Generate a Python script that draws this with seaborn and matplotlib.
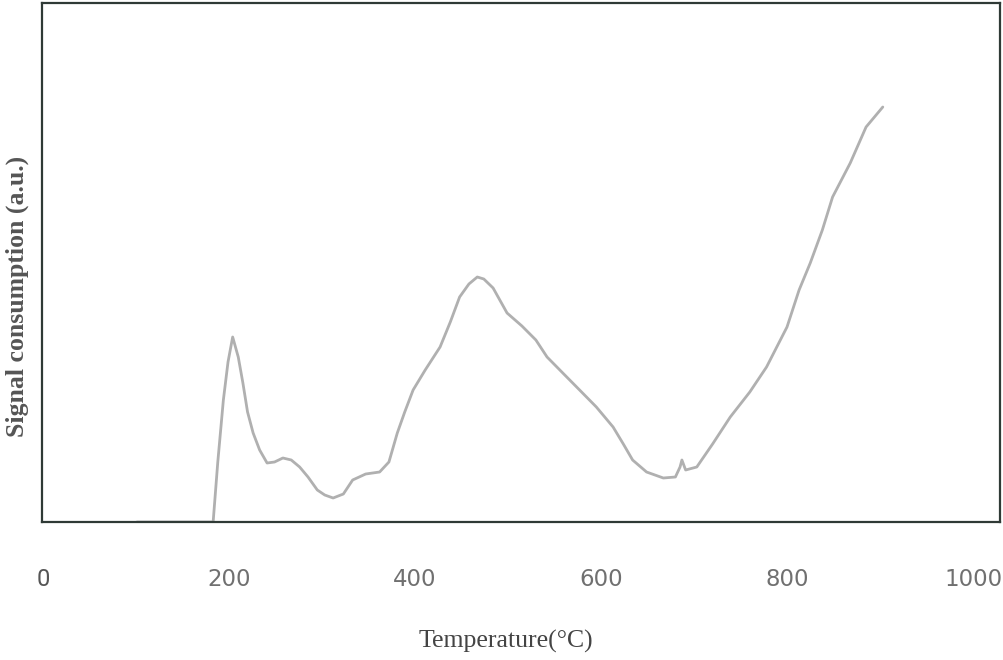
import matplotlib
matplotlib.use("Agg")
import matplotlib.pyplot as plt
import seaborn as sns
import pandas as pd

# Temperature (°C) and signal (a.u.)
temperature = [101, 158, 183, 188, 194, 199, 204, 210, 215, 220, 226, 233, 241,
               249, 258, 267, 276, 285, 295, 303, 312, 323, 333, 347, 362, 372,
               381, 389, 398, 411, 427, 438, 448, 458, 467, 474, 484, 499, 515,
               530, 542, 560, 577, 595, 613, 624, 634, 649, 667, 680, 685, 687,
               691, 703, 720, 739, 760, 778, 789, 800, 813, 825, 838, 849, 868,
               885, 903]
signal = [0, 0, 0, 60, 122, 160, 185, 165, 139, 110, 89, 72, 59,
          60, 64, 62, 55, 45, 32, 27, 24, 28, 42, 48, 50, 60,
          89, 110, 132, 152, 175, 200, 225, 238, 245, 243, 234, 209, 196,
          182, 165, 148, 132, 115, 95, 78, 62, 50, 44, 45, 55, 62,
          52, 55, 78, 105, 130, 155, 175, 195, 232, 259, 292, 325, 359,
          395, 415]
tick_values = [0, 200, 400, 600, 800, 1000]
tick_labels = ["0", "200", "400", "600", "800", "1000"]
x_label = "Temperature(°C)"
y_label = "Signal consumption (a.u.)"

df = pd.DataFrame({"T": temperature, "S": signal})

sns.set_theme(style="white")
plt.rcParams["font.family"] = ["DejaVu Sans"]

fig = plt.figure(figsize=(10.04, 6.6), dpi=100)
ax = fig.add_axes([42 / 1004, 1 - 522 / 660, (1000 - 42) / 1004, (522 - 3) / 660])

sns.lineplot(data=df, x="T", y="S", ax=ax, color="#b0b0b0", linewidth=2.0,
             estimator=None, sort=False)

ax.set_xlim(-1, 1029)
ax.set_ylim(0, 519)
ax.set_yticks([])
ax.set_xticks(tick_values)
ax.set_xticklabels(tick_labels)
ax.tick_params(axis="x", length=0, pad=33)
for i, lab in enumerate(ax.get_xticklabels()):
    if i == 0:
        lab.set_fontfamily(["Roboto", "DejaVu Sans"])
        lab.set_fontsize(17)
        lab.set_color("#555555")
    else:
        lab.set_fontfamily(["DejaVu Sans Condensed", "DejaVu Sans"])
        lab.set_fontsize(16.5)
        lab.set_color("#707070")

ax.set_xlabel(x_label, fontsize=18.5, family=["Liberation Serif", "DejaVu Serif"],
              color="#444444")
ax.set_ylabel(y_label, fontsize=18.5, family=["Liberation Serif", "DejaVu Serif"],
              fontweight="bold", color="#555555")
ax.yaxis.set_label_coords(-13 / 958, (522 - 296) / 519)
ax.xaxis.set_label_coords((506 - 42) / 958, -(630 - 522) / 519)

for side in ["left", "right", "top", "bottom"]:
    ax.spines[side].set_visible(True)
    ax.spines[side].set_color("#2f3a36")
    ax.spines[side].set_linewidth(1.6)

fig.savefig("out.png", dpi=100, facecolor="white")
